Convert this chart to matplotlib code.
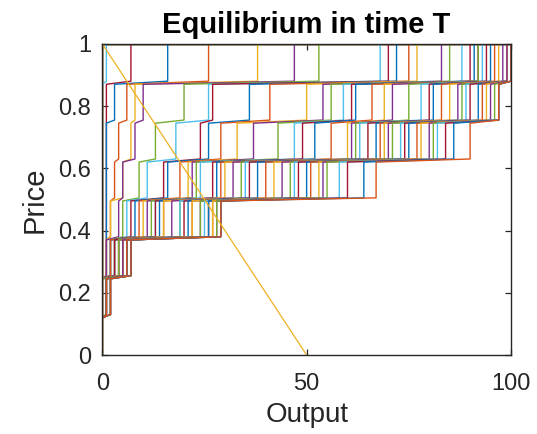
import matplotlib
matplotlib.use("Agg")
import matplotlib.pyplot as plt

plt.rcParams["font.family"] = ["Liberation Sans", "DejaVu Sans"]

# MATLAB default colour order
colors = ["#0072BD", "#D95319", "#EDB120", "#7E2F8E", "#77AC30", "#4DBEEE", "#A2142F"]

price_levels = [0, 0.125, 0.25, 0.375, 0.5, 0.625, 0.75, 0.875, 1.0]

# output at which each of the 44 curves leaves a price level
step_0125 = [0, 0, 0, 0, 0, 0, 0, 0, 0, 0, 0, 0, 0, 0, 0, 0, 0, 0, 0, 0, 0, 0, 0, 0, 0, 0,
             1, 1, 1, 1, 1, 1, 1, 1, 1, 1, 1, 2, 2, 2, 2, 2, 2, 2]
step_0250 = [0, 0, 0, 0, 0, 0, 1, 1, 1, 1, 1, 2, 2, 2, 2, 2, 3, 3, 3, 3, 3, 4, 4, 4, 4, 4,
             5, 5, 5, 5, 5, 5, 6, 6, 6, 6, 6, 7, 7, 7, 7, 7, 7, 7]
step_0375 = [0, 0, 0, 0, 0, 0, 1, 1, 2, 2, 4, 5, 6, 7, 8, 9, 10, 11, 12, 13, 13, 14, 15, 15,
             17, 19, 19, 20, 21, 22, 22, 24, 24, 25, 26, 26, 27, 27, 28, 28, 29, 29, 29, 29]
step_0500 = [0, 0, 0, 0, 0, 0, 1, 1, 3, 5, 5, 9, 11, 15, 16, 19, 21, 22, 23, 24, 27, 28,
             29, 30, 32, 34, 35, 36, 38, 40, 42, 44, 46, 47, 48, 50, 51, 53, 54, 55, 58, 60, 64, 67]
step_0625 = [0, 0, 0, 0, 0, 0, 1, 1, 4, 7, 8, 13, 18, 24, 26, 29, 33, 37, 43, 47, 49, 52,
             56, 60, 61, 62, 63, 65, 67, 68, 69, 70, 71, 73, 74, 75, 77, 78, 80, 81, 82, 84, 86, 90]
step_0750 = [0, 0, 0, 0, 0, 0, 1, 3, 6, 8, 10, 20, 26, 27, 36, 41, 50, 54, 56, 59, 61, 62,
             66, 69, 71, 75, 78, 80, 81, 83, 85, 87, 88, 89, 90, 92, 93, 94, 95, 96, 97, 97, 97, 97]
step_0875 = [0, 0, 0, 0, 0, 1, 7, 16, 26, 38, 47, 53, 68, 70, 72, 75, 77, 83, 85, 88, 90, 91,
             92, 92, 92, 92, 93, 94, 95, 96, 97, 98, 99, 99, 99, 99, 99, 99, 99, 100, 100, 100, 100, 100]
steps = [step_0125, step_0250, step_0375, step_0500, step_0625, step_0750, step_0875]

demand_q = [0, 50]
demand_p = [1, 0]

fig = plt.figure(figsize=(5.37, 4.34), dpi=100)
ax = fig.add_axes([0.1905, 0.182, 0.761, 0.717])

# small rise along each flat step, as in the original drawing
tilt = 0.005
for i in range(len(step_0125)):
    xs, ys = [0], [0]
    prev = 0
    for k, s in enumerate(steps):
        lvl = price_levels[k + 1]
        xs += [prev, s[i]]
        ys += [lvl - tilt, lvl + tilt]
        prev = s[i]
    xs += [prev, 100]
    ys += [1, 1]
    ax.plot(xs, ys, color=colors[i % 7], lw=1.0)

ax.plot(demand_q, demand_p, color=colors[len(step_0125) % 7], lw=0.9)

ax.set_xlim(0, 100)
ax.set_ylim(0, 1)
ax.set_xticks([0, 50, 100])
ax.set_yticks([0, 0.2, 0.4, 0.6, 0.8, 1])
ax.set_yticklabels(["0", "0.2", "0.4", "0.6", "0.8", "1"])
ax.tick_params(direction="in", top=True, right=True, length=4, width=0.9,
               labelsize=17, colors="#262626")
ax.tick_params(axis="x", pad=13)
ax.tick_params(axis="y", pad=8)
for sp in ax.spines.values():
    sp.set_color("#262626")
    sp.set_linewidth(1.0)
    sp.set_zorder(5)

ax.set_title("Equilibrium in time T", fontsize=21, fontweight="bold", pad=8)
ax.set_xlabel("Output", fontsize=20, color="#262626", labelpad=5)
ax.set_ylabel("Price", fontsize=21, color="#262626", labelpad=7)

fig.savefig("out.png", dpi=100)
